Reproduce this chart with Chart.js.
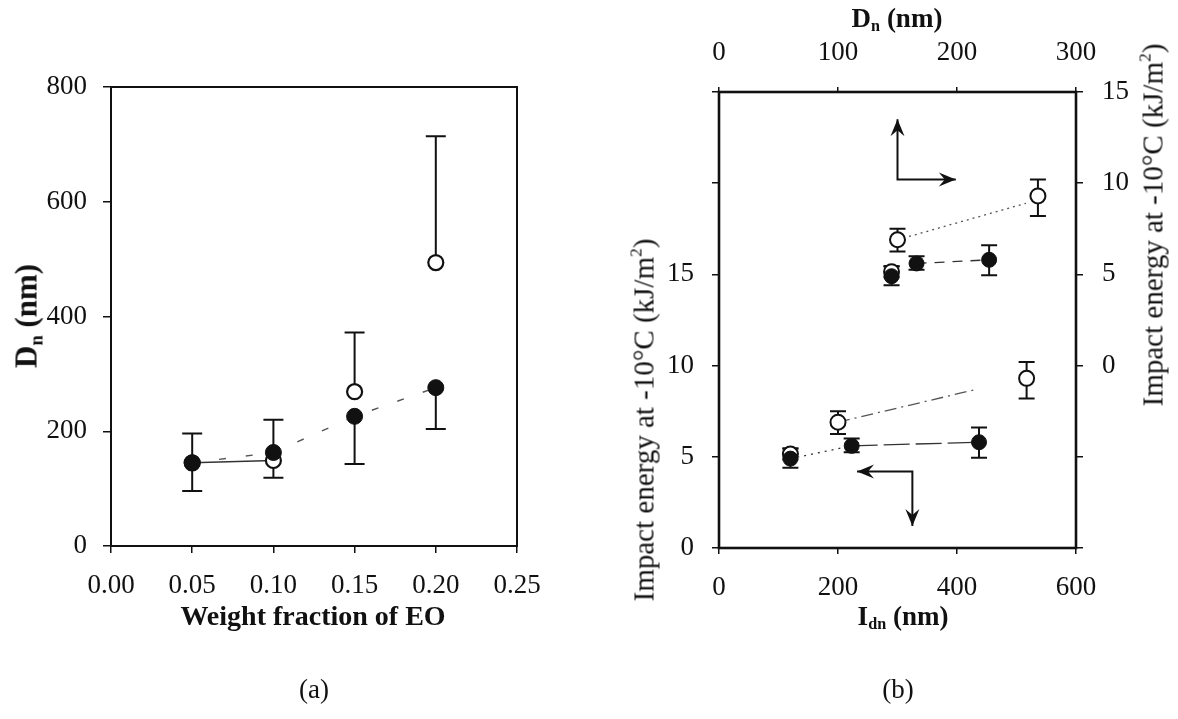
<!DOCTYPE html>
<html>
<head>
<meta charset="utf-8">
<script src="https://cdn.jsdelivr.net/npm/chart.js@4.4.0/dist/chart.umd.min.js"></script>
<style>
body{margin:0;background:#fff;width:1178px;height:719px;overflow:hidden;position:relative;font-family:"Liberation Serif","DejaVu Serif",serif;color:#111}
canvas{position:absolute;top:0}
#ca{left:0}
#cb{left:589px}
.lbl{position:absolute;white-space:nowrap;line-height:1;transform:translate(-50%,-50%)}
.rot{transform:translate(-50%,-50%) rotate(-90deg)}
.b{font-weight:bold}
sub{font-size:0.6em;vertical-align:-0.3em;line-height:0}
sup{font-size:0.6em;vertical-align:0.7em;line-height:0}
</style>
</head>
<body>
<canvas id="ca" width="589" height="719"></canvas>
<canvas id="cb" width="589" height="719"></canvas>

<div class="lbl rot b" style="left:26px;top:316px;font-size:31px">D<sub>n</sub> (nm)</div>
<div class="lbl b" style="left:313px;top:616px;font-size:28px">Weight fraction of EO</div>
<div class="lbl" style="left:314px;top:689px;font-size:27px">(a)</div>

<div class="lbl b" style="left:897px;top:18px;font-size:27px">D<sub>n</sub> (nm)</div>
<div class="lbl rot" style="left:644px;top:420px;font-size:29px">Impact energy at -10°C (kJ/m<sup>2</sup>)</div>
<div class="lbl rot" style="left:1153px;top:225px;font-size:29px">Impact energy at -10°C (kJ/m<sup>2</sup>)</div>
<div class="lbl b" style="left:903px;top:616px;font-size:27px">I<sub>dn</sub> (nm)</div>
<div class="lbl" style="left:898px;top:689px;font-size:27px">(b)</div>

<script>
// ---- panel (a): Dn vs weight fraction of EO
const eoFrac = [0.05, 0.10, 0.15, 0.20];
const dnFilled = [145, 163, 226, 276];
const dnFilledLo = [96, 119, 143, 204];
const dnOpen = [145, 149, 269, 494];
const dnOpenHi = [196, 220, 372, 714];
const ticksAx = [0, 0.05, 0.10, 0.15, 0.20, 0.25];
const ticksAy = [0, 200, 400, 600, 800];

// ---- panel (b): impact energy vs Idn (bottom/left) and Dn (top/right)
const idnFilled = [120, 223, 437];
const idnOpen = [120, 200, 517];
const dnFilledB = [145, 166, 227];
const dnOpenB = [145, 150, 268];
const impFilled = [4.9, 5.6, 5.8];
const impFilledLo = [4.4, 5.25, 4.95];
const impFilledHi = [5.45, 6.0, 6.6];
const impOpen = [5.15, 6.9, 9.3];
const impOpenLo = [4.85, 6.25, 8.2];
const impOpenHi = [5.45, 7.5, 10.2];
const trendLowIdn = [200, 433];
const trendLowImp = [6.9, 8.7];
const trendUpDn = [150, 258];
const trendUpImp = [6.9, 8.9];
const ticksIdn = [0, 200, 400, 600];
const ticksDnTop = [0, 100, 200, 300];
const ticksImpLeft = [0, 5, 10, 15, 20, 25];
const ticksImpRight = [-10, -5, 0, 5, 10, 15];

// arrows in bottom/left axis units: [corner, tip1, tip2]
const arrowUpRight = [[300, 20.2], [300, 23.5], [398, 20.2]];
const arrowLeftDown = [[325, 4.2], [232, 4.2], [325, 1.2]];

const INK = '#111';
const FONT = {family: 'Liberation Serif', size: 27};
const pts = (xs, ys) => xs.map((x, i) => ({x, y: ys[i]}));
const fixTicks = arr => s => { s.ticks = arr.map(v => ({value: v})); };

const errorBars = {
  id: 'errorBars',
  beforeDatasetsDraw(chart, args, opts) {
    const ctx = chart.ctx;
    chart.data.datasets.forEach(ds => {
      if (!ds.errLo && !ds.errHi) return;
      const xs = chart.scales[ds.xAxisID || 'x'], ys = chart.scales[ds.yAxisID || 'y'];
      ctx.save();
      ctx.strokeStyle = INK; ctx.lineWidth = opts.width;
      ds.data.forEach((p, i) => {
        const px = xs.getPixelForValue(p.x), py0 = ys.getPixelForValue(p.y);
        [ds.errLo, ds.errHi].forEach(arr => {
          if (!arr) return;
          const py1 = ys.getPixelForValue(arr[i]);
          ctx.beginPath();
          ctx.moveTo(px, py0); ctx.lineTo(px, py1);
          ctx.moveTo(px - opts.cap, py1); ctx.lineTo(px + opts.cap, py1);
          ctx.stroke();
        });
      });
      ctx.restore();
    });
  }
};

const frame = {
  id: 'frame',
  afterDraw(chart, args, opts) {
    const a = chart.chartArea, ctx = chart.ctx;
    ctx.save();
    ctx.strokeStyle = INK; ctx.lineWidth = opts.width;
    ctx.strokeRect(a.left, a.top, a.right - a.left, a.bottom - a.top);
    ctx.restore();
  }
};

function head(ctx, x0, y0, x1, y1) {
  const ang = Math.atan2(y1 - y0, x1 - x0);
  ctx.save();
  ctx.translate(x1, y1); ctx.rotate(ang);
  ctx.beginPath();
  ctx.moveTo(0, 0); ctx.lineTo(-17, -7); ctx.lineTo(-11, 0); ctx.lineTo(-17, 7);
  ctx.closePath(); ctx.fill();
  ctx.restore();
}

const arrows = {
  id: 'arrows',
  afterDatasetsDraw(chart) {
    const ctx = chart.ctx, xs = chart.scales.x, ys = chart.scales.y;
    ctx.save();
    ctx.strokeStyle = INK; ctx.fillStyle = INK; ctx.lineWidth = 2;
    [arrowUpRight, arrowLeftDown].forEach(ar => {
      const [c, t1, t2] = ar.map(p => [xs.getPixelForValue(p[0]), ys.getPixelForValue(p[1])]);
      ctx.beginPath();
      ctx.moveTo(t1[0], t1[1]); ctx.lineTo(c[0], c[1]); ctx.lineTo(t2[0], t2[1]);
      ctx.stroke();
      head(ctx, c[0], c[1], t1[0], t1[1]);
      head(ctx, c[0], c[1], t2[0], t2[1]);
    });
    ctx.restore();
  }
};

function axis(opts) {
  return Object.assign({
    type: 'linear',
    border: {display: false},
    grid: {drawOnChartArea: false, drawTicks: true, tickLength: 8, color: INK, lineWidth: 1.5},
    ticks: {font: FONT, color: INK, padding: 16, autoSkip: false, maxRotation: 0}
  }, opts);
}

const common = {
  responsive: false,
  animation: false,
  events: [],
  plugins: {legend: {display: false}, tooltip: {enabled: false}}
};

// ---------- chart (a)
new Chart(document.getElementById('ca'), {
  type: 'scatter',
  data: {datasets: [
    {data: pts(eoFrac, dnFilled), showLine: true, borderColor: '#555', borderWidth: 1.4,
     borderDash: [7, 20], pointRadius: 0, order: 10},
    {data: pts(eoFrac.slice(0, 2), dnOpen.slice(0, 2)), showLine: true, borderColor: '#333',
     borderWidth: 1.4, pointRadius: 0, order: 9},
    {data: pts(eoFrac, dnOpen), pointRadius: 7.5, pointBackgroundColor: '#fff',
     pointBorderColor: INK, pointBorderWidth: 2.2, errHi: dnOpenHi, order: 2},
    {data: pts(eoFrac, dnFilled), pointRadius: 8, pointBackgroundColor: INK,
     pointBorderColor: INK, pointBorderWidth: 1, errLo: dnFilledLo, order: 1}
  ]},
  options: Object.assign({}, common, {
    layout: {padding: {left: 0, top: 87, right: 72, bottom: 113}},
    plugins: Object.assign({}, common.plugins, {errorBars: {cap: 10, width: 2}, frame: {width: 2}}),
    scales: {
      x: axis({min: 0, max: 0.25, afterBuildTicks: fixTicks(ticksAx),
        afterFit: s => { s.height = 60; },
        grid: {drawOnChartArea: false, tickLength: 7, color: INK, lineWidth: 1.5},
        ticks: {font: FONT, color: INK, padding: 17, maxRotation: 0, autoSkip: false,
                callback: v => v.toFixed(2)}}),
      y: axis({min: 0, max: 800, afterBuildTicks: fixTicks(ticksAy),
        afterFit: s => { s.width = 111; }})
    }
  }),
  plugins: [errorBars, frame]
});

// ---------- chart (b)
const lowSeg = {borderDash: ctx => ctx.p0DataIndex === 0 ? [2, 5] : [26, 6]};
new Chart(document.getElementById('cb'), {
  type: 'scatter',
  data: {datasets: [
    {data: pts(idnFilled, impFilled), showLine: true, borderColor: '#333', borderWidth: 1.3,
     segment: lowSeg, pointRadius: 0, order: 10},
    {data: pts(trendLowIdn, trendLowImp), showLine: true, borderColor: '#555', borderWidth: 1.3,
     borderDash: [12, 5, 2, 5], pointRadius: 0, order: 10},
    {data: pts(idnOpen, impOpen), pointRadius: 7.5, pointBackgroundColor: '#fff',
     pointBorderColor: INK, pointBorderWidth: 2, errLo: impOpenLo, errHi: impOpenHi, order: 2},
    {data: pts(idnFilled, impFilled), pointRadius: 7.5, pointBackgroundColor: INK,
     pointBorderColor: INK, errLo: impFilledLo, errHi: impFilledHi, order: 1},

    {data: pts(dnFilledB.slice(1), impFilled.slice(1)), xAxisID: 'x2', yAxisID: 'y2', showLine: true,
     borderColor: '#333', borderWidth: 1.3, borderDash: [10, 8], pointRadius: 0, order: 10},
    {data: pts(trendUpDn, trendUpImp), xAxisID: 'x2', yAxisID: 'y2', showLine: true,
     borderColor: '#555', borderWidth: 1.3, borderDash: [2, 4], pointRadius: 0, order: 10},
    {data: pts(dnOpenB, impOpen), xAxisID: 'x2', yAxisID: 'y2', pointRadius: 7.5,
     pointBackgroundColor: '#fff', pointBorderColor: INK, pointBorderWidth: 2,
     errLo: impOpenLo, errHi: impOpenHi, order: 2},
    {data: pts(dnFilledB, impFilled), xAxisID: 'x2', yAxisID: 'y2', pointRadius: 7.5,
     pointBackgroundColor: INK, pointBorderColor: INK,
     errLo: impFilledLo, errHi: impFilledHi, order: 1}
  ]},
  options: Object.assign({}, common, {
    layout: {padding: {left: 0, top: 0, right: 0, bottom: 111}},
    plugins: Object.assign({}, common.plugins, {errorBars: {cap: 8, width: 2}, frame: {width: 2.6}}),
    scales: {
      x: axis({position: 'bottom', min: 0, max: 600, afterBuildTicks: fixTicks(ticksIdn),
        afterFit: s => { s.height = 60; },
        grid: {drawOnChartArea: false, tickLength: 6, color: INK, lineWidth: 1.5},
        ticks: {font: FONT, color: INK, padding: 18, maxRotation: 0, autoSkip: false}}),
      x2: axis({position: 'top', min: 0, max: 300, afterBuildTicks: fixTicks(ticksDnTop),
        afterFit: s => { s.height = 92; },
        grid: {drawOnChartArea: false, tickLength: 5, color: INK, lineWidth: 1.5},
        ticks: {font: FONT, color: INK, padding: 18, maxRotation: 0, autoSkip: false}}),
      y: axis({position: 'left', min: 0, max: 25, afterBuildTicks: fixTicks(ticksImpLeft),
        afterFit: s => { s.width = 130; },
        grid: {drawOnChartArea: false, tickLength: 7, color: INK, lineWidth: 1.5},
        ticks: {font: FONT, color: INK, padding: 18, callback: v => v <= 15 ? v : ''}}),
      y2: axis({position: 'right', min: -10, max: 15, afterBuildTicks: fixTicks(ticksImpRight),
        afterFit: s => { s.width = 102; },
        grid: {drawOnChartArea: false, tickLength: 7, color: INK, lineWidth: 1.5},
        ticks: {font: FONT, color: INK, padding: 19, callback: v => v >= 0 ? v : ''}})
    }
  }),
  plugins: [errorBars, frame, arrows]
});
</script>
</body>
</html>
